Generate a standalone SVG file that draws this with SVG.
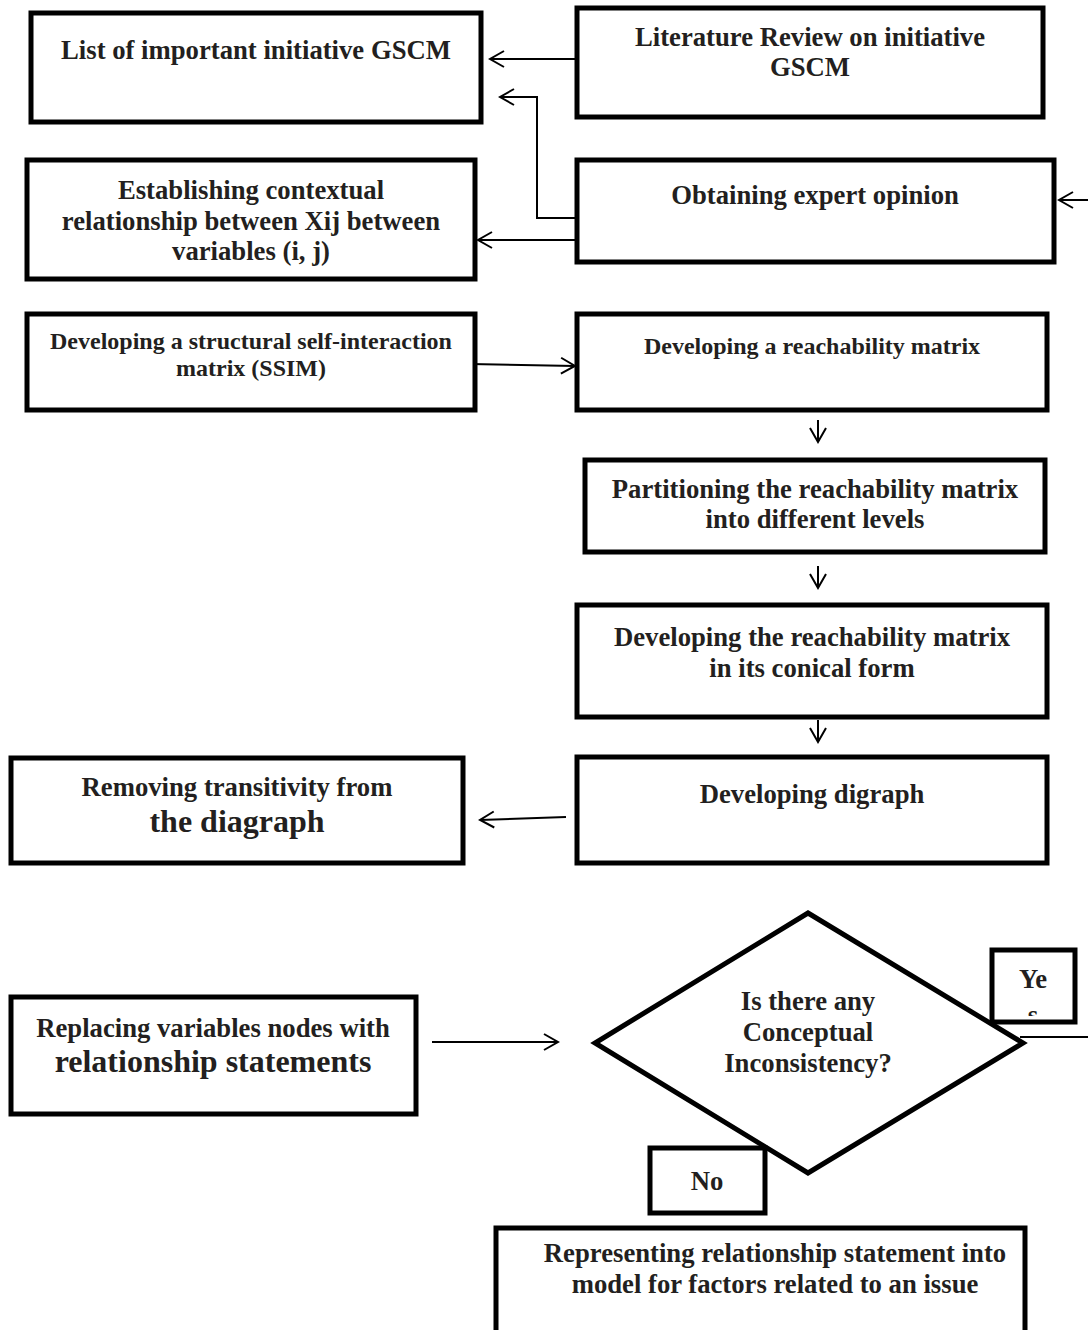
<svg xmlns="http://www.w3.org/2000/svg" width="1088" height="1330" viewBox="0 0 1088 1330">
<style>
.box{fill:#fff;stroke:#000;stroke-width:5}
.t{font-family:"Liberation Serif","Times New Roman",serif;font-weight:bold;fill:#231f20;text-anchor:middle;font-size:26.7px}
.s{font-size:24px}
.l{font-size:32px}
.c{fill:none;stroke:#000;stroke-width:2}
</style>
<defs>
<marker id="a" viewBox="0 0 20 20" refX="18" refY="10" markerWidth="20" markerHeight="20" markerUnits="userSpaceOnUse" orient="auto">
<path d="M4 2 L18 10 L4 18" fill="none" stroke="#000" stroke-width="2"/>
</marker>
<clipPath id="yc"><rect x="994" y="952" width="79" height="64"/></clipPath>
</defs>
<rect width="1088" height="1330" fill="#fff"/>
<g id="connectors">
<path class="c" d="M577 59 H490" marker-end="url(#a)"/>
<path class="c" d="M577 218 H537 V97 H500" marker-end="url(#a)"/>
<path class="c" d="M577 240 H478" marker-end="url(#a)"/>
<path class="c" d="M1088 200 H1059" marker-end="url(#a)"/>
<path class="c" d="M470 364 L575 366" marker-end="url(#a)"/>
<path class="c" d="M818 420 V442" marker-end="url(#a)"/>
<path class="c" d="M818 566 V588" marker-end="url(#a)"/>
<path class="c" d="M818 720 V742" marker-end="url(#a)"/>
<path class="c" d="M566 817 L480 820" marker-end="url(#a)"/>
<path class="c" d="M432 1042 H558" marker-end="url(#a)"/>
<path class="c" d="M1020 1037 H1088"/>
</g>
<g id="n1"><rect class="box" x="31" y="13" width="450" height="109"/><text class="t" x="256" y="59">List of important initiative GSCM</text></g>
<g id="n2"><rect class="box" x="577" y="8" width="466" height="109"/><text class="t" x="810" y="46">Literature Review on initiative</text><text class="t" x="810" y="76">GSCM</text></g>
<g id="n3"><rect class="box" x="27" y="160" width="448" height="119"/><text class="t" x="251" y="199">Establishing contextual</text><text class="t" x="251" y="230">relationship between Xij between</text><text class="t" x="251" y="260">variables (i, j)</text></g>
<g id="n4"><rect class="box" x="577" y="160" width="477" height="102"/><text class="t" x="815" y="204">Obtaining expert opinion</text></g>
<g id="n5"><rect class="box" x="27" y="314" width="448" height="96"/><text class="t s" x="251" y="349">Developing a structural self-interaction</text><text class="t s" x="251" y="376">matrix (SSIM)</text></g>
<g id="n6"><rect class="box" x="577" y="314" width="470" height="96"/><text class="t s" x="812" y="354">Developing a reachability matrix</text></g>
<g id="n7"><rect class="box" x="585" y="460" width="460" height="92"/><text class="t" x="815" y="498">Partitioning the reachability matrix</text><text class="t" x="815" y="528">into different levels</text></g>
<g id="n8"><rect class="box" x="577" y="605" width="470" height="112"/><text class="t" x="812" y="646">Developing the reachability matrix</text><text class="t" x="812" y="677">in its conical form</text></g>
<g id="n9"><rect class="box" x="577" y="757" width="470" height="106"/><text class="t" x="812" y="803">Developing digraph</text></g>
<g id="n10"><rect class="box" x="11" y="758" width="452" height="105"/><text class="t" x="237" y="796">Removing transitivity from</text><text class="t l" x="237" y="832">the diagraph</text></g>
<g id="n11"><rect class="box" x="11" y="997" width="405" height="117"/><text class="t" x="213" y="1037">Replacing variables nodes with</text><text class="t l" x="213" y="1072">relationship statements</text></g>
<g id="n12"><polygon class="box" points="808,913 1023,1043 808,1173 595,1043"/><text class="t" x="808" y="1010">Is there any</text><text class="t" x="808" y="1041">Conceptual</text><text class="t" x="808" y="1072">Inconsistency?</text></g>
<g id="n13"><rect class="box" x="992" y="950" width="83" height="72"/><g clip-path="url(#yc)"><text class="t" x="1033" y="988">Ye</text><text class="t" x="1033" y="1024">s</text></g></g>
<g id="n14"><rect class="box" x="650" y="1148" width="115" height="65"/><text class="t" x="707" y="1190">No</text></g>
<g id="n15"><rect class="box" x="496" y="1228" width="529" height="110"/><text class="t" x="775" y="1262">Representing relationship statement into</text><text class="t" x="775" y="1293">model for factors related to an issue</text></g>
</svg>
